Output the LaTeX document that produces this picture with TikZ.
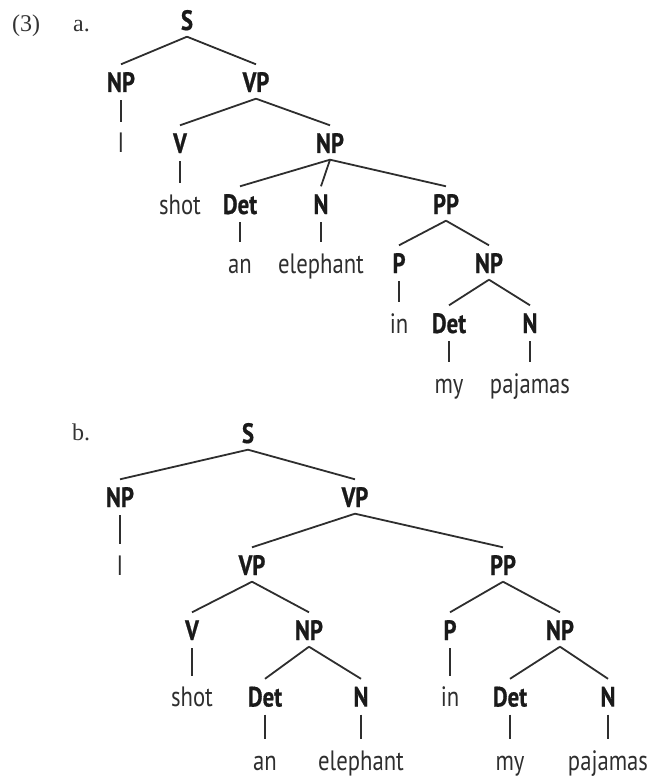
\documentclass[tikz,border=0pt]{standalone}
\usepackage{fontspec}
\newfontfamily\treefont[FakeStretch=0.81,BoldFeatures={FakeBold=0.7}]{PT Sans}
\newfontfamily\labfont{Liberation Serif}
\definecolor{catc}{HTML}{1A1A1A}
\definecolor{wordc}{HTML}{2E2E2E}
\definecolor{linec}{HTML}{2E2E2E}
\definecolor{labc}{HTML}{333333}
\begin{document}
\begin{tikzpicture}[x=1pt,y=-1pt,
  cat/.style={font=\treefont\fontsize{28}{32}\selectfont\bfseries, text=catc, anchor=base, inner sep=0pt, text height=19.5pt, text depth=0pt},
  word/.style={font=\treefont\fontsize{28}{32}\selectfont, text=wordc, anchor=base, inner sep=0pt, text height=19.5pt, text depth=0pt},
  lab/.style={font=\labfont\fontsize{24}{28}\selectfont, text=labc, anchor=base west, inner sep=0pt},
  br/.style={draw=linec, line width=1.8pt},
]
\useasboundingbox (0,0) rectangle (651,778);

% labels
\node[lab] (n3) at (12,32) {(3)};
\node[lab] (la) at (73,32) {a.};
\node[lab] (lb) at (72,440) {b.};

% ---------- tree a ----------
\node[cat] (aS) at (187,30) {S};
\node[cat] (aNP1) at (121,92) {NP};
\node[cat] (aVP1) at (256,92) {VP};
\node[word] (aI) at (121,153) {I};
\node[cat] (aV) at (180,153) {V};
\node[cat] (aNP2) at (330,153) {NP};
\node[word] (ashot) at (180,214) {shot};
\node[cat] (aDet1) at (240,214) {Det};
\node[cat] (aN1) at (321,214) {N};
\node[cat] (aPP) at (446,214) {PP};
\node[word] (aan) at (240,273) {an};
\node[word] (aele) at (321,273) {elephant};
\node[cat] (aP) at (399,273) {P};
\node[cat] (aNP3) at (489,273) {NP};
\node[word] (ain) at (399,333) {in};
\node[cat] (aDet2) at (449,333) {Det};
\node[cat] (aN2) at (530,333) {N};
\node[word] (amy) at (449,393) {my};
\node[word] (apaj) at (530,393) {pajamas};

% ---------- tree b ----------
\node[cat] (bS) at (248,443) {S};
\node[cat] (bNP1) at (120,507) {NP};
\node[cat] (bVP1) at (355,507) {VP};
\node[word] (bI) at (120,575) {I};
\node[cat] (bVP2) at (252,575) {VP};
\node[cat] (bPP) at (503,575) {PP};
\node[cat] (bV) at (192,640) {V};
\node[cat] (bNP2) at (309,640) {NP};
\node[cat] (bP) at (450,640) {P};
\node[cat] (bNP3) at (560,640) {NP};
\node[word] (bshot) at (192,706.5) {shot};
\node[cat] (bDet1) at (265,706.5) {Det};
\node[cat] (bN1) at (361,706.5) {N};
\node[word] (bin) at (450,706.5) {in};
\node[cat] (bDet2) at (510,706.5) {Det};
\node[cat] (bN2) at (608,706.5) {N};
\node[word] (ban) at (265,770) {an};
\node[word] (bele) at (361,770) {elephant};
\node[word] (bmy) at (510,770) {my};
\node[word] (bpaj) at (608,770) {pajamas};

% slanted branches
\foreach \p/\c in {aS/aNP1, aS/aVP1, aVP1/aV, aVP1/aNP2, aNP2/aDet1, aNP2/aN1, aNP2/aPP,
                   aPP/aP, aPP/aNP3, aNP3/aDet2, aNP3/aN2,
                   bS/bNP1, bS/bVP1, bVP1/bVP2, bVP1/bPP, bVP2/bV, bVP2/bNP2,
                   bNP2/bDet1, bNP2/bN1, bPP/bP, bPP/bNP3, bNP3/bDet2, bNP3/bN2}
  \draw[br] ([yshift=-6.5pt]\p.south) -- ([yshift=8pt]\c.north);

% vertical (lexical) branches
\foreach \p/\c in {aNP1/aI, aV/ashot, aDet1/aan, aN1/aele, aP/ain, aDet2/amy, aN2/apaj,
                   bNP1/bI, bV/bshot, bDet1/ban, bN1/bele, bP/bin, bDet2/bmy, bN2/bpaj}
  \draw[br] ([yshift=-8pt]\p.south) -- ([yshift=11pt]\c.north);
\end{tikzpicture}
\end{document}
